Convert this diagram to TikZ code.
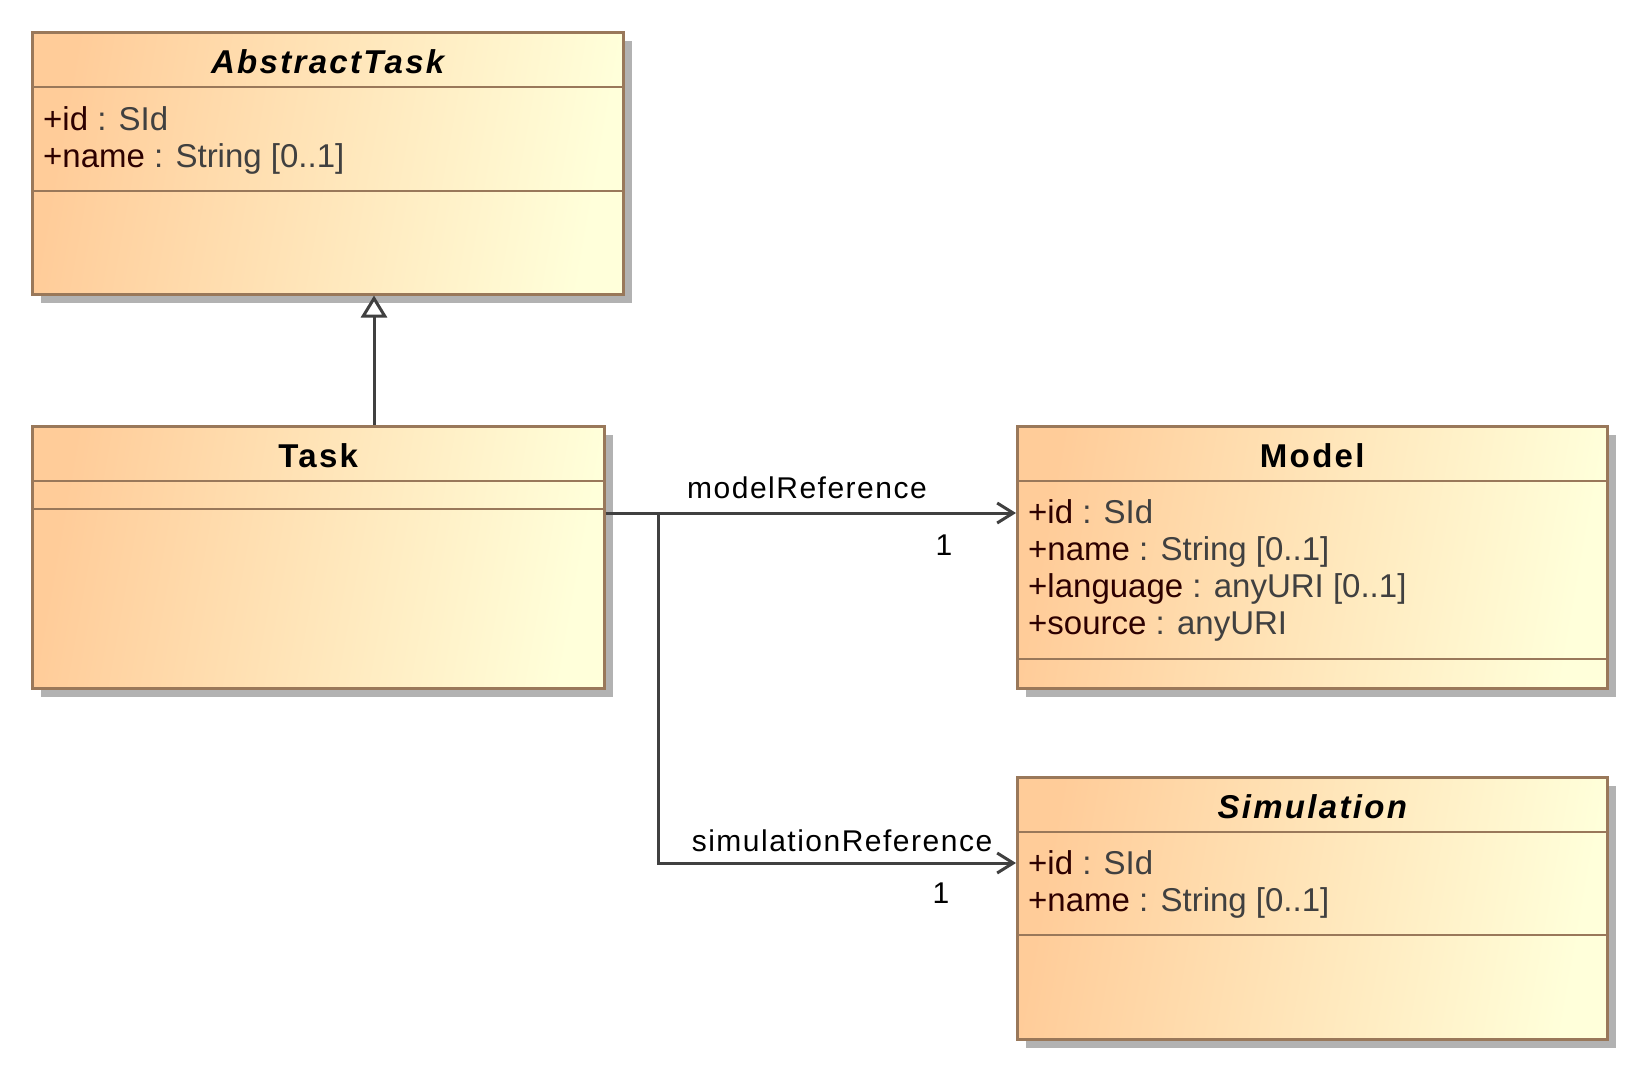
\documentclass[tikz,border=0pt]{standalone}
\usepackage{fontspec}
\setmainfont{Liberation Sans}
\newfontfamily\titlefam{Liberation Sans}[LetterSpace=7]
\newfontfamily\labfam{Liberation Sans}[LetterSpace=5]
\usetikzlibrary{arrows.meta,shadows,calc}
\definecolor{ucA}{RGB}{255,204,153}
\definecolor{ucB}{RGB}{255,255,218}
\definecolor{ubord}{RGB}{153,120,90}
\definecolor{ushad}{RGB}{178,178,178}
\definecolor{uline}{RGB}{64,64,64}
\definecolor{attname}{RGB}{45,0,0}
\definecolor{atttype}{RGB}{64,64,64}
\newcommand\attn[1]{\textcolor{attname}{#1}}
\newcommand\attt[1]{\textcolor{atttype}{#1}}
\begin{document}
\begin{tikzpicture}[x=1pt,y=-1pt,
  umlbox/.style={draw=ubord, line width=2.5pt, left color=ucA, right color=ucB,
    shading angle=80, minimum height=262pt, inner sep=0pt, anchor=north west,
    drop shadow={shadow xshift=9pt, shadow yshift=-9pt, fill=ushad, opacity=1}},
  sepline/.style={draw=ubord, line width=2.5pt},
  ctitle/.style={anchor=base, inner sep=0pt, font=\titlefam\fontsize{33}{38}\selectfont\bfseries},
  attr/.style={anchor=base west, inner sep=0pt, font=\fontsize{33}{38}\selectfont},
  clabel/.style={anchor=base, inner sep=0pt, font=\labfam\fontsize{30}{36}\selectfont},
  conn/.style={draw=uline, line width=3pt},
  genarrow/.style={conn, -{Triangle[open, fill=white, length=22pt, width=26pt]}},
  navarrow/.style={conn, -{Straight Barb[length=16pt, width=20pt]}},
]
\fill[white] (0,0) rectangle (1638,1069);
\useasboundingbox (0,0) rectangle (1638,1069);

% class boxes
\node[umlbox, minimum width=591pt] (abs) at (31,31) {};
\node[umlbox, minimum width=572pt] (task) at (31,425) {};
\node[umlbox, minimum width=590pt] (model) at (1016,425) {};
\node[umlbox, minimum width=590pt] (sim) at (1016,776) {};

% compartments
\draw[sepline] ([yshift=-56pt]abs.north west) -- ([yshift=-56pt]abs.north east);
\draw[sepline] ([yshift=-160pt]abs.north west) -- ([yshift=-160pt]abs.north east);
\draw[sepline] ([yshift=-56pt]task.north west) -- ([yshift=-56pt]task.north east);
\draw[sepline] ([yshift=-84pt]task.north west) -- ([yshift=-84pt]task.north east);
\draw[sepline] ([yshift=-56pt]model.north west) -- ([yshift=-56pt]model.north east);
\draw[sepline] ([yshift=-234pt]model.north west) -- ([yshift=-234pt]model.north east);
\draw[sepline] ([yshift=-56pt]sim.north west) -- ([yshift=-56pt]sim.north east);
\draw[sepline] ([yshift=-159pt]sim.north west) -- ([yshift=-159pt]sim.north east);

% titles
\node[ctitle] (absT) at ([yshift=-42pt]abs.north) {\itshape AbstractTask};
\node[ctitle] (taskT) at ([yshift=-42pt]task.north) {Task};
\node[ctitle] (modelT) at ([yshift=-42pt]model.north) {Model};
\node[ctitle] (simT) at ([yshift=-42pt]sim.north) {\itshape Simulation};

% attributes
\node[attr] (absA1) at ([xshift=12pt,yshift=-99pt]abs.north west) {\attn{+id}\ \attt{: SId}};
\node[attr] (absA2) at ([xshift=12pt,yshift=-136.5pt]abs.north west) {\attn{+name}\ \attt{: String [0..1]}};
\node[attr] (modA1) at ([xshift=12pt,yshift=-98pt]model.north west) {\attn{+id}\ \attt{: SId}};
\node[attr] (modA2) at ([xshift=12pt,yshift=-135pt]model.north west) {\attn{+name}\ \attt{: String [0..1]}};
\node[attr] (modA3) at ([xshift=12pt,yshift=-172pt]model.north west) {\attn{+language}\ \attt{: anyURI [0..1]}};
\node[attr] (modA4) at ([xshift=12pt,yshift=-209pt]model.north west) {\attn{+source}\ \attt{: anyURI}};
\node[attr] (simA1) at ([xshift=12pt,yshift=-98pt]sim.north west) {\attn{+id}\ \attt{: SId}};
\node[attr] (simA2) at ([xshift=12pt,yshift=-135pt]sim.north west) {\attn{+name}\ \attt{: String [0..1]}};

% connectors
\coordinate (gx) at (374,0);
\draw[genarrow] (task.north -| gx) -- (abs.south -| gx);
\coordinate (tport) at ([yshift=-88pt]task.north east);
\coordinate (br) at ($(tport)+(53,0)$);
\draw[navarrow] (tport) -- (tport -| model.west);
\draw[navarrow] (br) |- ([yshift=-87pt]sim.north west);

% labels
\node[clabel] (mrefL) at (807,498) {modelReference};
\node[clabel] (mrefM) at (944,555) {1};
\node[clabel] (srefL) at (842,851) {simulationReference};
\node[clabel] (srefM) at (941,903) {1};
\end{tikzpicture}
\end{document}
